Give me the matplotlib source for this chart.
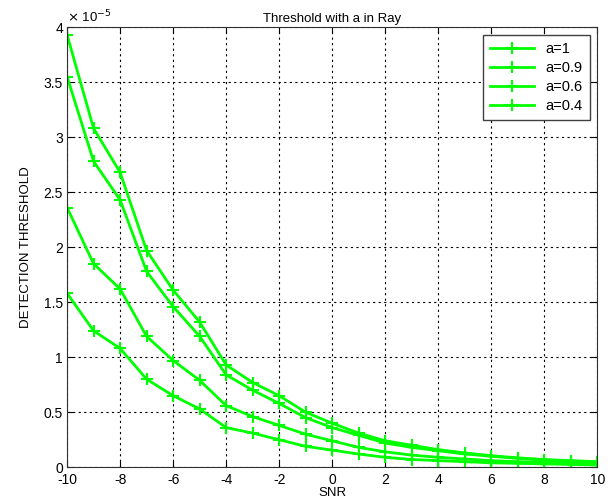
import matplotlib
matplotlib.use("Agg")
import matplotlib.pyplot as plt
from matplotlib.ticker import FuncFormatter, MultipleLocator

plt.rcParams['font.family'] = ['Liberation Sans', 'DejaVu Sans']
plt.rcParams['axes.unicode_minus'] = False

snr = [-10, -9, -8, -7, -6, -5, -4, -3, -2, -1, 0, 1, 2, 3, 4, 5, 6, 7, 8, 9, 10]
a1 = [3.93, 3.08, 2.68, 1.97, 1.61, 1.32, 0.93, 0.77, 0.65, 0.50, 0.40, 0.31, 0.24, 0.20, 0.16, 0.13, 0.105, 0.085, 0.07, 0.06, 0.05]
a09 = [3.55, 2.78, 2.43, 1.78, 1.46, 1.19, 0.84, 0.70, 0.58, 0.45, 0.36, 0.29, 0.22, 0.18, 0.15, 0.12, 0.10, 0.08, 0.065, 0.055, 0.045]
a06 = [2.36, 1.85, 1.62, 1.19, 0.97, 0.79, 0.56, 0.46, 0.38, 0.30, 0.24, 0.18, 0.14, 0.11, 0.09, 0.075, 0.06, 0.05, 0.045, 0.04, 0.035]
a04 = [1.58, 1.24, 1.08, 0.80, 0.65, 0.53, 0.36, 0.31, 0.25, 0.19, 0.155, 0.12, 0.09, 0.07, 0.06, 0.05, 0.04, 0.035, 0.03, 0.025, 0.02]
series = [("a=1", a1), ("a=0.9", a09), ("a=0.6", a06), ("a=0.4", a04)]
scale = 1e-5

fig = plt.figure(figsize=(6.1, 5.04), dpi=100)
ax = fig.add_axes([0.11, 0.073, 0.869, 0.873])

for name, vals in series:
    ax.plot(snr, [v * scale for v in vals], color='#00ff00', lw=2, marker='+',
            ms=9, mew=1.5, label=name)

ax.set_xlim(-10, 10)
ax.set_ylim(0, 4e-5)
ax.xaxis.set_major_locator(MultipleLocator(2))
ax.yaxis.set_major_locator(MultipleLocator(0.5e-5))
ax.yaxis.set_major_formatter(FuncFormatter(lambda v, p: '%g' % round(v / scale, 3)))
ax.grid(True, color='black', linestyle=(0, (2, 3)), lw=0.8)
ax.tick_params(direction='in', top=True, right=True, labelsize=10, length=4, pad=3)
ax.tick_params(axis='x', pad=4.5)
for s in ax.spines.values():
    s.set_linewidth(0.8)
    s.set_color('#303030')

# as in the reference, the y "0" label sits just above the axis line
fig.canvas.draw()
ax.yaxis.get_major_ticks()[0].label1.set_verticalalignment('bottom')

ax.text(0.0, 1.005, r'$\times$ 10$^{-5}$', transform=ax.transAxes, fontsize=9.5,
        ha='left', va='bottom')
ax.set_title('Threshold with a in Ray', fontsize=9.5, pad=4)
ax.set_xlabel('SNR', fontsize=9.5, labelpad=0)
ax.set_ylabel('DETECTION THRESHOLD', fontsize=9.5, labelpad=8)

leg = ax.legend(loc='upper right', fontsize=10.5, fancybox=False, framealpha=1,
                edgecolor='#404040', handlelength=3, borderaxespad=0.5,
                labelspacing=0.35, borderpad=0.5)
leg.get_frame().set_linewidth(1)

fig.savefig('out.png', dpi=100)
